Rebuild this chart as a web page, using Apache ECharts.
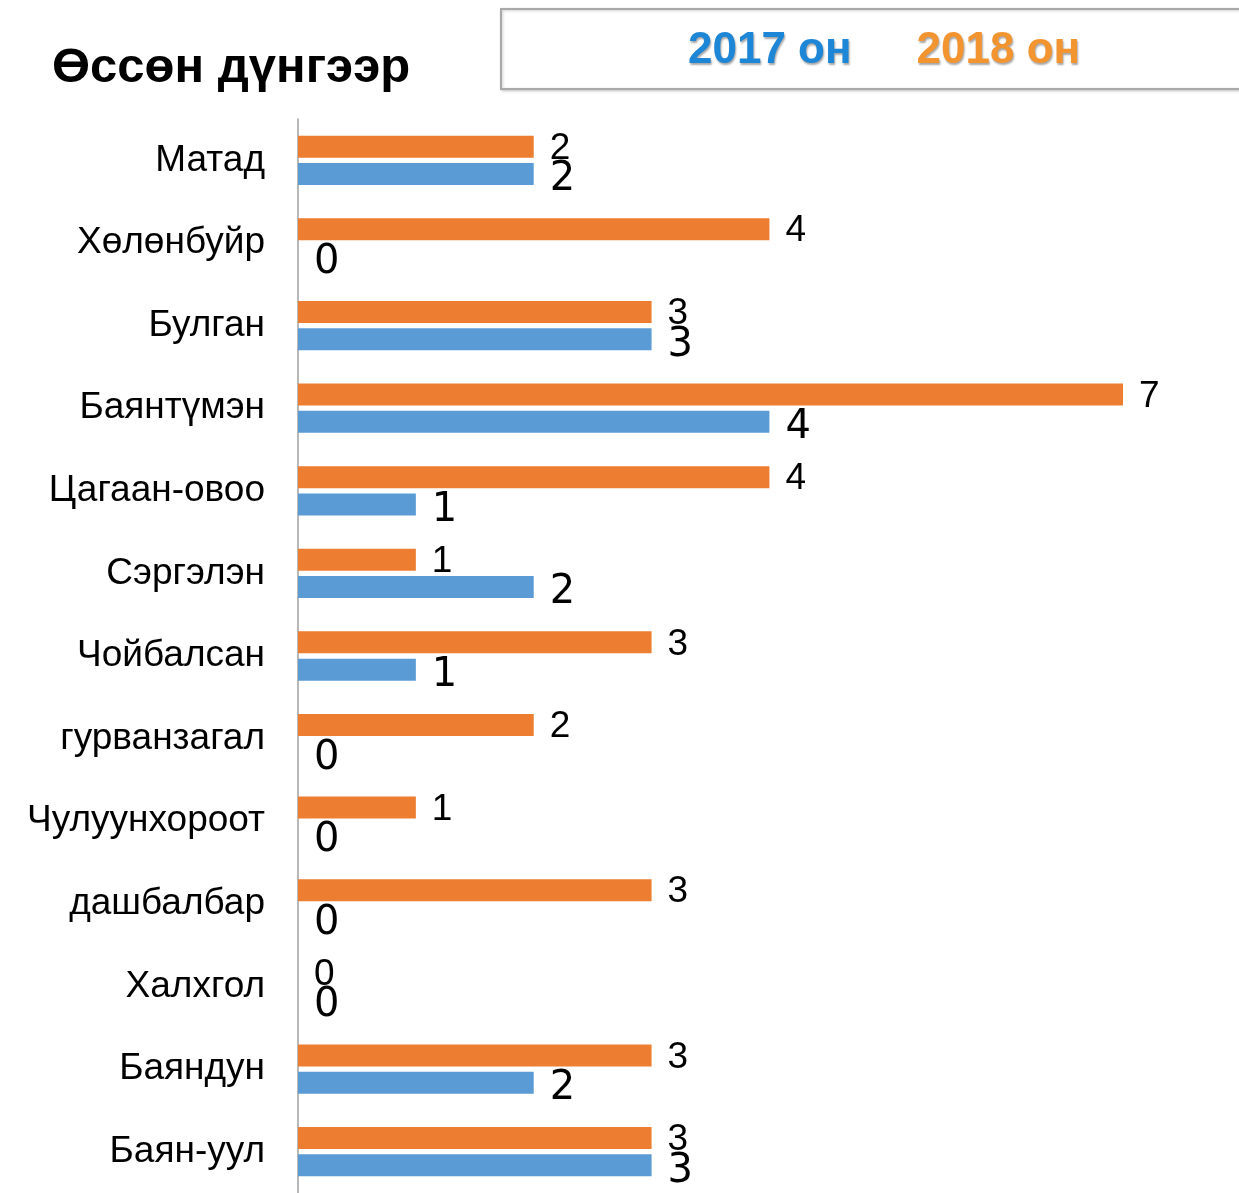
<!DOCTYPE html>
<html>
<head>
<meta charset="utf-8">
<script src="https://cdn.jsdelivr.net/npm/echarts@6/dist/echarts.min.js"></script>
<style>
html,body{margin:0;padding:0;background:#fff;}
#chart{width:1239px;height:1193px;}
</style>
</head>
<body>
<div id="chart"></div>
<script>
const categories = ['Матад','Хөлөнбуйр','Булган','Баянтүмэн','Цагаан-овоо','Сэргэлэн','Чойбалсан','гурванзагал','Чулуунхороот','дашбалбар','Халхгол','Баяндун','Баян-уул'];
const values2018 = [2,4,3,7,4,1,3,2,1,3,0,3,3];
const values2017 = [2,0,3,4,1,2,1,0,0,0,0,2,3];
const seriesNames = ['2017 он','2018 он'];
const chartTitle = 'Өссөн дүнгээр';

const chart = echarts.init(document.getElementById('chart'), null, {renderer:'canvas'});
chart.setOption({
  animation:false,
  backgroundColor:'#fff',
  title:{
    text:chartTitle,
    left:47, top:39,
    textStyle:{fontFamily:'Liberation Sans, Arial', fontWeight:'bold', fontSize:49, color:'#000'}
  },
  graphic:[{
    type:'rect', left:500, top:8, z:-1,
    shape:{width:780, height:80},
    style:{fill:'#fff', stroke:'#A9A9A9', lineWidth:2, shadowColor:'rgba(0,0,0,0.2)', shadowBlur:3, shadowOffsetX:1, shadowOffsetY:1}
  }],
  legend:{
    left:683, top:29, orient:'horizontal', width:600,
    data:[
      {name:seriesNames[0], textStyle:{color:'#1E86D6'}},
      {name:seriesNames[1], textStyle:{color:'#F29530'}}
    ],
    icon:'none', itemWidth:0, itemHeight:10, itemGap:60,
    padding:0,
    textStyle:{fontFamily:'Liberation Sans, Arial', fontWeight:'bold', fontSize:44,
      textShadowColor:'rgba(0,0,0,0.35)', textShadowBlur:2, textShadowOffsetX:1, textShadowOffsetY:2}
  },
  grid:{left:298, right:116, top:119, height:1076, containLabel:false},
  xAxis:{type:'value', min:0, max:7, show:false},
  yAxis:{
    type:'category', data:categories, inverse:true,
    axisLine:{show:true, lineStyle:{color:'#A0A0A0', width:1.5}},
    axisTick:{show:false},
    axisLabel:{color:'#000', fontSize:37, fontFamily:'Liberation Sans, Arial', margin:33}
  },
  series:[
    {
      name:seriesNames[1], type:'bar', data:values2018,
      barWidth:22, barGap:'24%',
      itemStyle:{color:'#ED7D31'},
      label:{show:true, position:'right', distance:16, offset:[0,2], color:'#000', fontSize:37, fontFamily:'Liberation Sans, Arial'}
    },
    {
      name:seriesNames[0], type:'bar', data:values2017,
      barWidth:22, barGap:'24%',
      itemStyle:{color:'#5B9BD5'},
      label:{show:true, position:'right', distance:16, offset:[0,6], color:'#000', fontSize:40, fontFamily:'DejaVu Sans'}
    }
  ]
});
</script>
</body>
</html>
